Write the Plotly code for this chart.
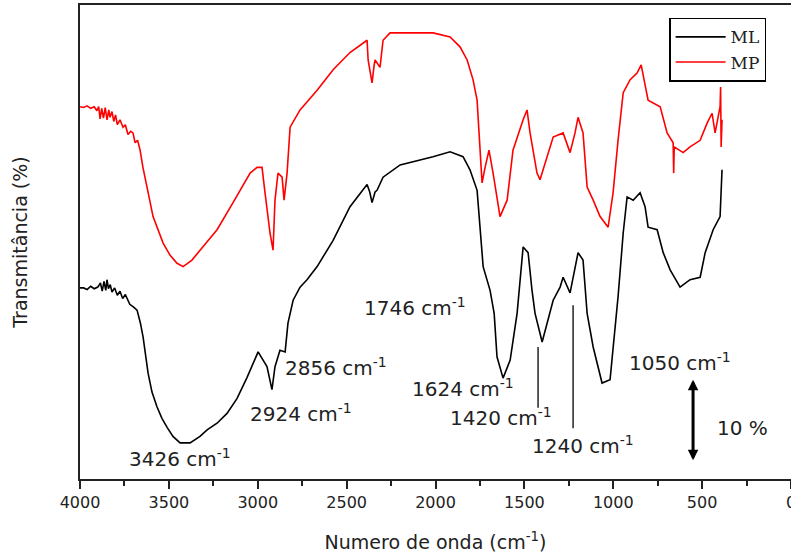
import plotly.graph_objects as go

# ---- data ----
ml_wn = [4000, 3980, 3960, 3940, 3920, 3900, 3885, 3875, 3865, 3855, 3848, 3840, 3830, 3820, 3805,
         3790, 3775, 3760, 3745, 3736, 3720, 3700, 3679, 3660, 3645, 3617, 3595, 3567, 3539, 3510,
         3477, 3437, 3381, 3325, 3285, 3229, 3173, 3117, 3060, 2998, 2948, 2920, 2903, 2875, 2846,
         2830, 2801, 2762, 2723, 2666, 2576, 2481, 2385, 2370, 2357, 2340, 2329, 2295, 2199, 2014,
         1918, 1845, 1806, 1766, 1749, 1732, 1693, 1670, 1654, 1620, 1580, 1541, 1507, 1479, 1457,
         1440, 1400, 1372, 1338, 1299, 1282, 1243, 1198, 1170, 1147, 1113, 1063, 1018, 990, 973, 944,
         922, 888, 849, 821, 804, 753, 719, 680, 624, 568, 511, 483, 438, 399, 392, 388]
ml_t = [23.3, 23.3, 23.1, 23.5, 23.2, 23.4, 23.9, 22.9, 24.1, 23.0, 24.3, 23.2, 23.7, 22.8, 23.3,
        22.4, 22.9, 22.0, 22.5, 22.0, 21.3, 21.0, 20.6, 19.0, 17.3, 12.9, 10.6, 8.8, 7.4, 6.3,
        5.2, 4.4, 4.4, 5.2, 6.0, 6.8, 8.0, 9.8, 12.4, 15.5, 13.7, 10.9, 13.7, 15.7, 15.5,
        19.0, 21.8, 23.4, 24.3, 25.9, 29.1, 33.2, 35.9, 35.0, 33.7, 35.0, 35.2, 36.8, 38.3, 39.3,
        39.9, 39.3, 37.7, 35.2, 30.7, 25.9, 23.0, 20.2, 14.9, 12.3, 14.5, 20.2, 28.3, 27.6, 23.0,
        20.2, 16.7, 19.0, 21.8, 23.4, 24.6, 22.7, 27.6, 26.7, 20.2, 16.1, 11.7, 12.1, 18.2, 22.2, 30.0,
        34.4, 34.0, 34.9, 33.2, 30.7, 30.4, 27.6, 25.5, 23.4, 24.3, 24.6, 27.6, 30.4, 32.0, 35.0, 37.7]

mp_wn = [4000, 3980, 3960, 3940, 3920, 3905, 3895, 3887, 3878, 3868, 3858, 3848, 3838, 3831, 3820,
         3810, 3800, 3790, 3775, 3758, 3745, 3730, 3715, 3702, 3690, 3676, 3662, 3646, 3623, 3589,
         3533, 3494, 3454, 3420, 3370, 3325, 3229, 3139, 3043, 3004, 2976, 2959, 2931, 2914, 2903,
         2886, 2863, 2852, 2835, 2818, 2762, 2666, 2576, 2481, 2385, 2379, 2365, 2357, 2345, 2340,
         2312, 2295, 2256, 2199, 2014, 1918, 1862, 1822, 1789, 1766, 1755, 1738, 1721, 1699, 1676,
         1637, 1597, 1564, 1507, 1485, 1468, 1429, 1412, 1372, 1338, 1282, 1243, 1215, 1198, 1170,
         1147, 1113, 1074, 1029, 1001, 973, 944, 905, 866, 843, 821, 804, 736, 697, 663, 660, 657,
         607, 568, 511, 472, 444, 427, 399, 396, 393, 388]
mp_t = [45.4, 45.3, 45.5, 45.2, 45.4, 44.9, 45.4, 43.9, 45.2, 44.0, 45.3, 43.8, 45.0, 44.1, 44.8,
        43.6, 44.4, 43.2, 43.8, 42.9, 43.2, 42.0, 42.4, 42.2, 41.0, 41.3, 40.1, 38.0, 35.6, 32.0,
        28.8, 27.3, 26.3, 25.9, 26.7, 27.9, 30.4, 33.7, 37.3, 38.0, 38.0, 34.9, 30.0, 27.9, 34.0,
        37.3, 36.8, 34.0, 37.3, 42.9, 45.0, 47.4, 49.9, 52.0, 53.5, 51.1, 49.0, 48.3, 50.5, 51.1,
        50.2, 53.5, 54.4, 54.4, 54.4, 53.9, 52.7, 51.1, 48.7, 46.2, 42.2, 36.1, 38.0, 40.1, 37.3,
        32.0, 34.0, 40.1, 43.8, 45.0, 42.2, 37.3, 36.5, 39.3, 41.7, 42.2, 39.8, 42.2, 44.1, 42.2,
        35.6, 34.0, 32.0, 30.7, 34.9, 41.3, 47.1, 48.7, 49.5, 50.5, 48.3, 46.2, 45.4, 42.2, 41.0, 37.3, 40.5,
        39.8, 40.5, 41.3, 43.4, 44.6, 42.2, 45.4, 47.8, 40.5, 43.8]

x_ticks = [4000, 3500, 3000, 2500, 2000, 1500, 1000, 500, 0]

# peak labels: (text, left-edge wavenumber, vertical centre transmittance)
peak_labels = [
    ("3426 cm<sup>-1</sup>", 3736, 2.6),
    ("2924 cm<sup>-1</sup>", 3055, 8.0),
    ("2856 cm<sup>-1</sup>", 2858, 13.7),
    ("1746 cm<sup>-1</sup>", 2413, 21.0),
    ("1624 cm<sup>-1</sup>", 2143, 11.1),
    ("1420 cm<sup>-1</sup>", 1930, 7.6),
    ("1240 cm<sup>-1</sup>", 1468, 4.2),
    ("1050 cm<sup>-1</sup>", 923, 14.3),
]
marker_lines = [(1423, 16.1, 8.7), (1226, 21.2, 6.2)]
scale_bar = (551, 2.1, 12.1)

FONT = "DejaVu Sans"
TXT = "#222222"

fig = go.Figure()
fig.add_trace(go.Scatter(x=ml_wn, y=ml_t, mode="lines", name="ML",
                         line=dict(color="#000000", width=1.6)))
fig.add_trace(go.Scatter(x=mp_wn, y=mp_t, mode="lines", name="MP",
                         line=dict(color="#ff0000", width=1.6)))

for txt, xw, yt in peak_labels:
    fig.add_annotation(x=xw, y=yt, xref="x", yref="y", text=txt, showarrow=False,
                       xanchor="left", yanchor="middle",
                       font=dict(family=FONT, size=20, color=TXT))

for xw, y0, y1 in marker_lines:
    fig.add_shape(type="line", x0=xw, x1=xw, y0=y0, y1=y1, xref="x", yref="y",
                  line=dict(color="#000000", width=1.3))

sx, sy0, sy1 = scale_bar
fig.add_annotation(x=sx, y=sy1, ax=sx, ay=sy0, xref="x", yref="y", axref="x", ayref="y",
                   text="", showarrow=True, arrowhead=2, arrowside="end+start",
                   arrowsize=0.7, arrowwidth=3, arrowcolor="#000000")
fig.add_annotation(x=428, y=6.2, xref="x", yref="y", text="10 %", showarrow=False,
                   xanchor="left", yanchor="middle",
                   font=dict(family=FONT, size=20, color=TXT))

fig.update_layout(
    width=791, height=555,
    margin=dict(l=80, r=0, t=5, b=76),
    plot_bgcolor="white", paper_bgcolor="white",
    showlegend=True,
    legend=dict(x=0.965, xanchor="right", y=0.973, yanchor="top",
                bgcolor="white", bordercolor="#000000", borderwidth=1.5,
                font=dict(family="DejaVu Serif", size=17, color="#222222"),
                tracegroupgap=0, itemwidth=50),
)
fig.update_xaxes(
    range=[4000, 0], tickvals=x_ticks, ticktext=[str(v) for v in x_ticks],
    ticks="outside", ticklen=8, tickwidth=1.5, tickcolor="#222222",
    minor=dict(dtick=250, ticks="outside", ticklen=5, tickwidth=1.5, tickcolor="#222222"),
    showline=True, linecolor="#222222", linewidth=1.5, mirror=True,
    showgrid=False, zeroline=False, ticklabeloverflow="allow", automargin=False,
    tickfont=dict(family=FONT, size=16, color=TXT),
    title=dict(text="Numero de onda (cm<sup>-1</sup>)", standoff=25,
               font=dict(family=FONT, size=19, color=TXT)),
)
fig.update_yaxes(
    range=[0, 57.8], showticklabels=False, ticks="", automargin=False,
    showline=True, linecolor="#222222", linewidth=1.5, mirror=False,
    showgrid=False, zeroline=False,
    title=dict(text="Transmitância (%)", standoff=46,
               font=dict(family=FONT, size=19, color=TXT)),
)

fig.write_html("out.html")
